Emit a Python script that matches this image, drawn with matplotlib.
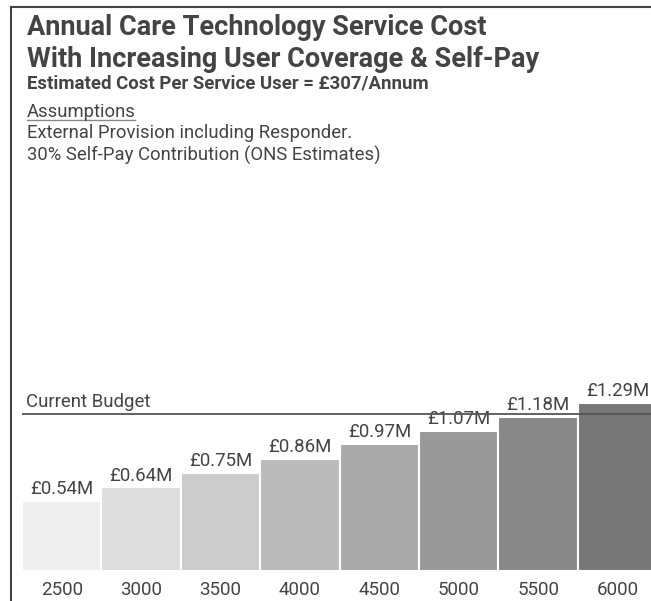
import matplotlib.pyplot as plt
from matplotlib.lines import Line2D

plt.rcParams["font.family"] = ["Roboto", "DejaVu Sans"]

# service users covered and annual cost in £M
users = ["2500", "3000", "3500", "4000", "4500", "5000", "5500", "6000"]
cost_m = [0.54, 0.64, 0.75, 0.86, 0.97, 1.07, 1.18, 1.29]
bar_labels = ["£0.54M", "£0.64M", "£0.75M", "£0.86M", "£0.97M", "£1.07M", "£1.18M", "£1.29M"]
budget_m = 1.2

bar_colors = ["#efefef", "#dedede", "#cccccc", "#bbbbbb",
              "#aaaaaa", "#999999", "#888888", "#777777"]
TXT = "#444444"

W, H = 651, 601
fig = plt.figure(figsize=(W / 100, H / 100), dpi=100)


def fy(py):
    # pixel row from the top -> figure fraction
    return 1 - py / H


# axes in pixel terms: baseline at y=571, ~130.5 px per £1M, bars ~79.4 px apart
px_per_m = 130.5
ymax = 3.0
ax_left, ax_w = 22, 8 * 79.4
ax = fig.add_axes([ax_left / W, (H - 571) / H, ax_w / W, ymax * px_per_m / H])

x = range(len(users))
ax.bar(x, cost_m, width=1.0, color=bar_colors, edgecolor="white", linewidth=1.5, zorder=2)
for i, (v, lab) in enumerate(zip(cost_m, bar_labels)):
    ax.annotate(lab, (i, v), xytext=(0, 5), textcoords="offset points",
                ha="center", va="baseline", fontsize=13.4, color=TXT, zorder=3)

ax.axhline(budget_m, color="#555555", linewidth=1.3, zorder=4)
ax.annotate("Current Budget", (-0.45, budget_m), xytext=(0, 5), textcoords="offset points",
            ha="left", va="baseline", fontsize=13.4, color=TXT)

ax.set_xlim(-0.5, 7.5)
ax.set_ylim(0, ymax)
ax.set_xticks(list(x))
ax.set_xticklabels(users, fontsize=13.5, color=TXT)
ax.tick_params(axis="x", length=0, pad=7)
ax.set_yticks([])
for s in ax.spines.values():
    s.set_visible(False)

# headings
left = 27 / W
fig.text(left, fy(35), "Annual Care Technology Service Cost",
         ha="left", va="baseline", fontsize=19.5, fontweight="bold", color=TXT)
fig.text(left, fy(67), "With Increasing User Coverage & Self-Pay",
         ha="left", va="baseline", fontsize=19.5, fontweight="bold", color=TXT)
fig.text(left, fy(89), "Estimated Cost Per Service User = £307/Annum",
         ha="left", va="baseline", fontsize=13.4, fontweight="bold", color=TXT)
fig.text(left, fy(116.5), "Assumptions", ha="left", va="baseline", fontsize=13.3, color=TXT)
fig.add_artist(Line2D([left, 135 / W], [fy(120), fy(120)], color="#888888", linewidth=1))
fig.text(left, fy(137.5), "External Provision including Responder.",
         ha="left", va="baseline", fontsize=13.3, color=TXT)
fig.text(left, fy(161), "30% Self-Pay Contribution (ONS Estimates)",
         ha="left", va="baseline", fontsize=13.3, color=TXT)

# frame on the left and top edges
fig.add_artist(Line2D([11 / W, 11 / W], [0, fy(6.5)], color="#444444", linewidth=1.5))
fig.add_artist(Line2D([11 / W, 1], [fy(6.5), fy(6.5)], color="#444444", linewidth=1.5))

fig.savefig("out.png", dpi=100)
